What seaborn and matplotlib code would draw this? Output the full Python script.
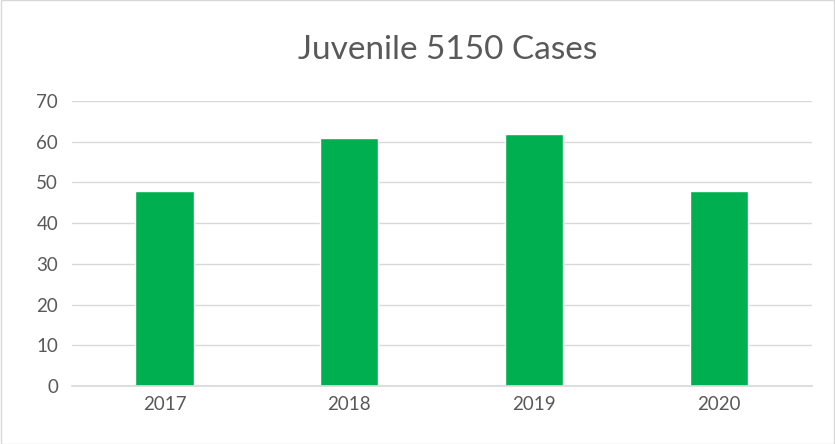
import matplotlib
matplotlib.use("Agg")
import matplotlib.pyplot as plt
import seaborn as sns
import pandas as pd

# chart data
years = ["2017", "2018", "2019", "2020"]
cases = [48, 61, 62, 48]

df = pd.DataFrame({"Year": years, "Cases": cases})

sns.set_theme(style="white")
plt.rcParams['font.family'] = ['Lato', 'DejaVu Sans']

fig = plt.figure(figsize=(8.35, 4.44), dpi=100)
ax = fig.add_axes([0.0862, 0.1306, 0.8858, 0.6419])

sns.barplot(data=df, x="Year", y="Cases", color="#00B050", width=0.315,
            saturation=1, ax=ax)

ax.set_ylim(0, 70)
ax.set_yticks(range(0, 71, 10))
ax.yaxis.grid(True, color="#D9D9D9", linewidth=1)
ax.set_axisbelow(True)
for s in ["top", "right", "left"]:
    ax.spines[s].set_visible(False)
ax.spines["bottom"].set_color("#D9D9D9")
ax.set_xlabel("")
ax.set_ylabel("")
ax.tick_params(axis="both", colors="#595959", labelsize=13.5, length=0)
ax.tick_params(axis="y", pad=10)
ax.tick_params(axis="x", pad=7)

fig.text(0.536, 0.887, "Juvenile 5150 Cases", ha="center", va="center",
         fontsize=24, color="#595959")

# outer border
fig.patches.append(plt.Rectangle((0.001, 0.001), 0.998, 0.998, transform=fig.transFigure,
                                 fill=False, edgecolor="#D9D9D9", linewidth=1))

fig.savefig("out.png", dpi=100)
